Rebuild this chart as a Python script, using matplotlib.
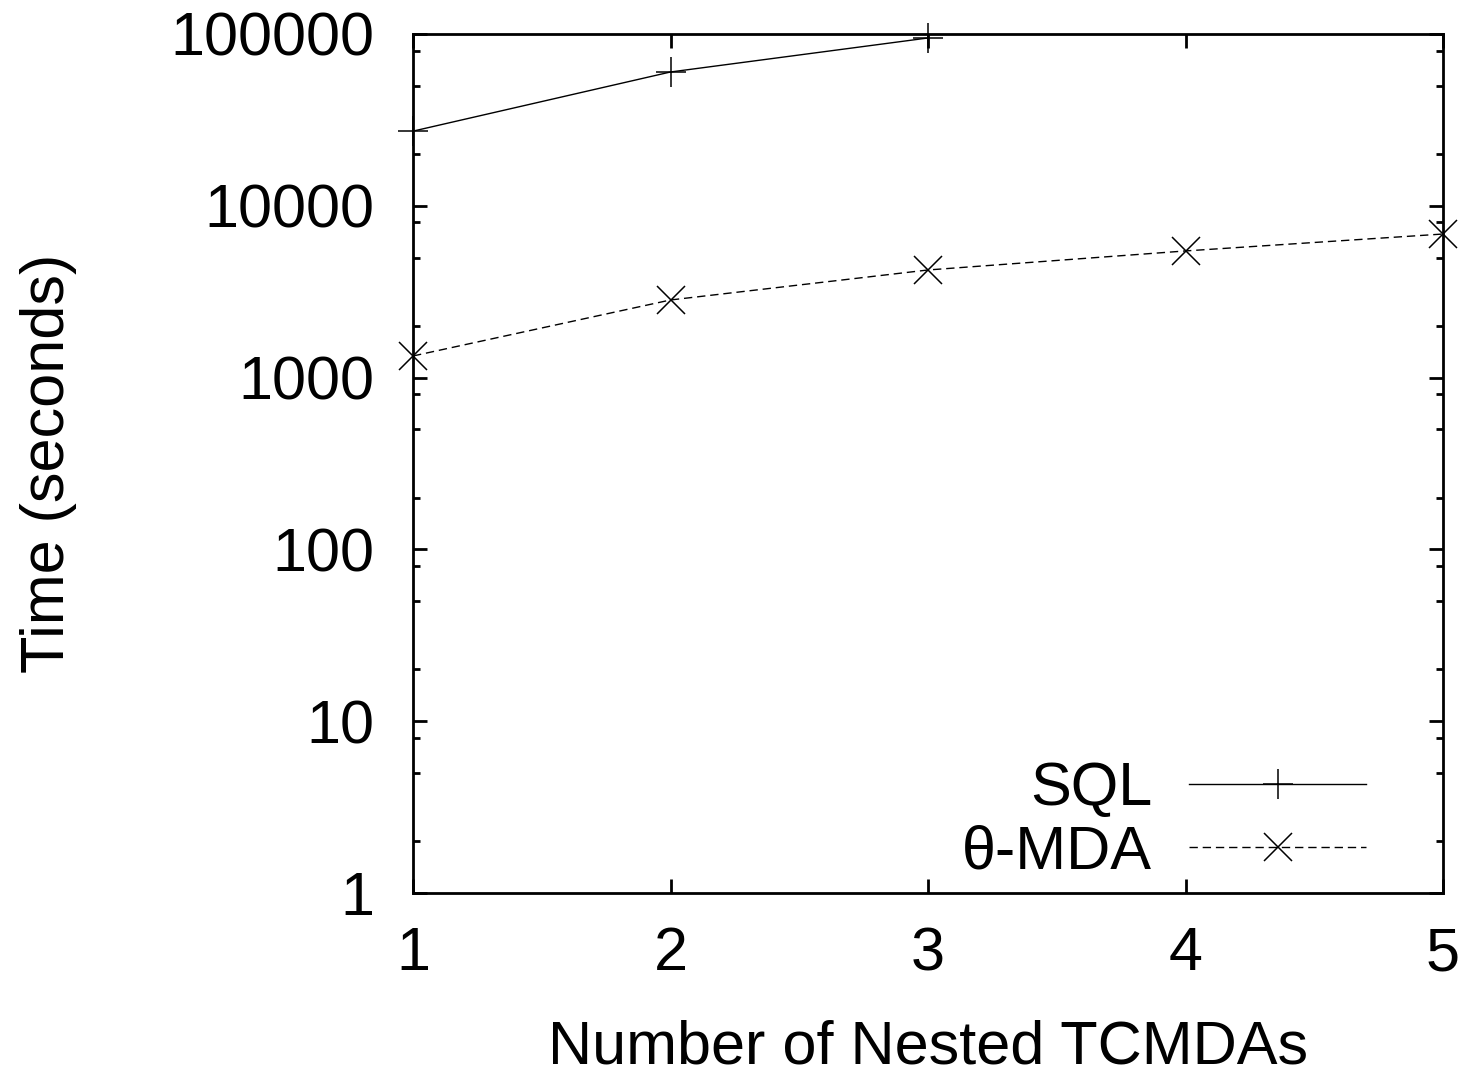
import matplotlib
matplotlib.use("Agg")
import matplotlib.pyplot as plt
from matplotlib.ticker import LogLocator, NullFormatter

plt.rcParams['font.family'] = ['Liberation Sans', 'DejaVu Sans']

# values (log y axis)
nested = [1, 2, 3, 4, 5]
sql_x = [1, 2, 3]
sql_time = [27200, 60100, 94800]
mda_x = [1, 2, 3, 4, 5]
mda_time = [1336, 2830, 4230, 5460, 6850]
ytick_vals = [1, 10, 100, 1000, 10000, 100000]
ytick_labels = ['1', '10', '100', '1000', '10000', '100000']

FS = 44

fig = plt.figure(figsize=(14.61, 10.79), dpi=100)
ax = fig.add_axes([0.2827, 0.1724, 0.705, 0.7961])

ax.plot(sql_x, sql_time, color='black', linewidth=1.0, marker='+',
        markersize=21, markeredgewidth=1.1, label='SQL', clip_on=False)
ax.plot(mda_x, mda_time, color='black', linewidth=1.0, linestyle=(0, (6, 3.5)),
        marker='x', markersize=20, markeredgewidth=1.1, label='θ-MDA', clip_on=False)

ax.set_yscale('log')
ax.set_xlim(1, 5)
ax.set_ylim(1, 100000)
ax.set_xticks(nested)
ax.set_yticks(ytick_vals)
ax.set_yticklabels(ytick_labels)
ax.yaxis.set_minor_locator(LogLocator(base=10, subs=[2, 5, 8]))
ax.yaxis.set_minor_formatter(NullFormatter())

for s in ax.spines.values():
    s.set_linewidth(2)

ax.tick_params(axis='both', which='both', direction='in', top=True, right=True,
               labelsize=FS, width=2)
ax.tick_params(axis='both', which='major', length=10)
ax.tick_params(axis='y', which='minor', length=5)
ax.tick_params(axis='y', which='major', pad=28)
ax.tick_params(axis='x', which='major', pad=24)

ax.set_xlabel('Number of Nested TCMDAs', fontsize=FS, labelpad=26)
ax.set_ylabel('Time (seconds)', fontsize=FS, labelpad=67)

leg = ax.legend(loc='lower right', bbox_to_anchor=(0.967, -0.036), frameon=False,
                fontsize=FS, markerfirst=False, handlelength=2.9,
                handletextpad=0.6, labelspacing=0.1, borderaxespad=0.3)

fig.savefig('out.png', dpi=100)
